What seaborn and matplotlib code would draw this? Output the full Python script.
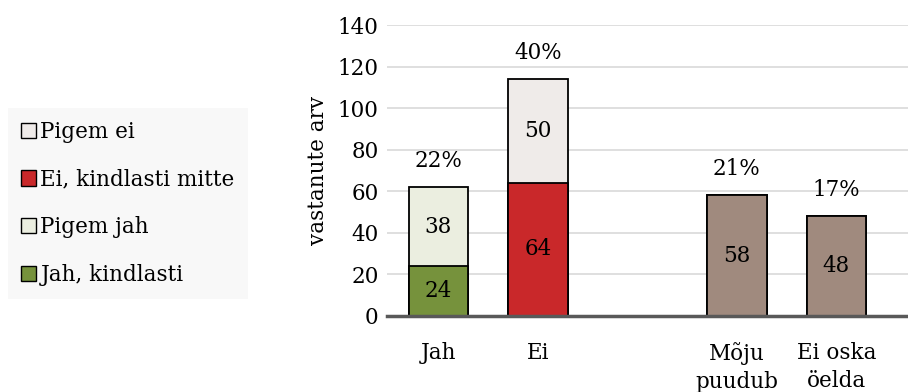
import pandas as pd
import seaborn as sns
import matplotlib.pyplot as plt
from matplotlib.patches import Patch

# categories (empty slot between "Ei" and "Mõju puudub")
categories = ["Jah", "Ei", " ", "Mõju\npuudub", "Ei oska\nöelda"]
bottom_vals = [24, 64, None, 58, 48]
top_vals = [38, 50, None, 0, 0]
percents = ["22%", "40%", "", "21%", "17%"]

legend_labels = ["Pigem ei", "Ei, kindlasti mitte", "Pigem jah", "Jah, kindlasti"]

green = "#76923C"
red = "#C9282A"
brown = "#A08A7E"
light_green = "#EBEEE0"
light_grey = "#EFEBE9"

top_colors = {"Jah": light_green, "Ei": light_grey, " ": brown,
              "Mõju\npuudub": brown, "Ei oska\nöelda": brown}
bottom_colors = {"Jah": green, "Ei": red, " ": brown,
                 "Mõju\npuudub": brown, "Ei oska\nöelda": brown}

df = pd.DataFrame({"cat": categories, "bottom": bottom_vals, "top": top_vals})
df["total"] = df["bottom"] + df["top"]

sns.set_style("white")
plt.rcParams["font.family"] = ["DejaVu Serif"]
plt.rcParams["text.color"] = "black"
plt.rcParams["xtick.color"] = "black"
plt.rcParams["ytick.color"] = "black"
plt.rcParams["axes.labelcolor"] = "black"
fs = 15.5

fig = plt.figure(figsize=(9.08, 3.92), dpi=100)
ax = fig.add_axes([0.426, 0.194, 0.574, 0.742])

sns.barplot(data=df, x="cat", y="total", hue="cat", palette=top_colors,
            order=categories, width=0.6, edgecolor="black", linewidth=1.3,
            saturation=1, legend=False, ax=ax, zorder=3)
sns.barplot(data=df, x="cat", y="bottom", hue="cat", palette=bottom_colors,
            order=categories, width=0.6, edgecolor="black", linewidth=1.3,
            saturation=1, legend=False, ax=ax, zorder=3)

# segment labels
for i, row in df.iterrows():
    if pd.isna(row["bottom"]):
        continue
    ax.text(i, row["bottom"] / 2, f"{int(row['bottom'])}", ha="center",
            va="center", fontsize=fs, zorder=4)
    if row["top"] > 0:
        ax.text(i, row["bottom"] + row["top"] / 2, f"{int(row['top'])}",
                ha="center", va="center", fontsize=fs, zorder=4)
    ax.annotate(percents[i], (i, row["total"]), xytext=(0, 19),
                textcoords="offset points", ha="center", va="center",
                fontsize=fs)

ax.set_ylim(0, 140)
ax.set_xlim(-0.52, 4.72)
ax.set_yticks(range(0, 141, 20))
ax.yaxis.grid(True, color="#D9D9D9", linewidth=1.2, zorder=0)
ax.set_axisbelow(True)
for s in ["top", "right", "left"]:
    ax.spines[s].set_visible(False)
ax.spines["bottom"].set_color("#595959")
ax.spines["bottom"].set_linewidth(2.5)
ax.spines["bottom"].set_zorder(5)
ax.tick_params(axis="both", length=0, labelsize=fs)
ax.tick_params(axis="x", pad=19)
ax.tick_params(axis="y", pad=6)
for lab in ax.get_xticklabels():
    lab.set_linespacing(1.35)
ax.set_xlabel("")
ax.set_ylabel("vastanute arv", fontsize=fs, labelpad=6)

handles = [Patch(facecolor=light_grey, edgecolor="black"),
           Patch(facecolor=red, edgecolor="black"),
           Patch(facecolor=light_green, edgecolor="black"),
           Patch(facecolor=green, edgecolor="black")]
leg = fig.legend(handles, legend_labels, loc="upper left",
                 bbox_to_anchor=(0.009, 0.725), fontsize=fs, frameon=True,
                 facecolor="#F8F8F8", edgecolor="none", fancybox=False,
                 handlelength=0.7, handleheight=0.7, handletextpad=0.2,
                 labelspacing=1.2, borderpad=0.6, borderaxespad=0)
leg.get_frame().set_alpha(1)

fig.savefig("out.png", dpi=100)
